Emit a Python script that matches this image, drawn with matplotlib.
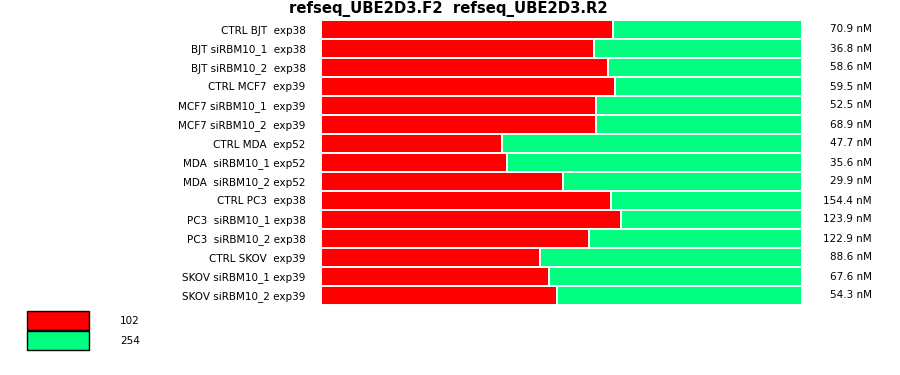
import numpy as np
import matplotlib.pyplot as plt
from matplotlib.patches import Rectangle

samples = [
    "CTRL BJT  exp38", "BJT siRBM10_1  exp38", "BJT siRBM10_2  exp38",
    "CTRL MCF7  exp39", "MCF7 siRBM10_1  exp39", "MCF7 siRBM10_2  exp39",
    "CTRL MDA  exp52", "MDA  siRBM10_1 exp52", "MDA  siRBM10_2 exp52",
    "CTRL PC3  exp38", "PC3  siRBM10_1 exp38", "PC3  siRBM10_2 exp38",
    "CTRL SKOV  exp39", "SKOV siRBM10_1 exp39", "SKOV siRBM10_2 exp39",
]
# fraction of signal from probe 102 (red); rest is 254 (green)
frac_102 = [0.607, 0.567, 0.597, 0.611, 0.572, 0.572, 0.376, 0.387, 0.503,
            0.603, 0.624, 0.557, 0.455, 0.474, 0.491]
frac_254 = [1 - f for f in frac_102]
conc_nm = [70.9, 36.8, 58.6, 59.5, 52.5, 68.9, 47.7, 35.6, 29.9,
           154.4, 123.9, 122.9, 88.6, 67.6, 54.3]
legend_labels = ["102", "254"]
colors = ["#ff0000", "#00ff80"]

fig = plt.figure(figsize=(9, 3.75), dpi=100)
ax = fig.add_axes([321 / 900, 1 - 305 / 375, 481 / 900, 285 / 375])

y = np.arange(len(samples))
ax.barh(y, frac_102, height=1.0, color=colors[0], edgecolor="white", linewidth=1.4)
ax.barh(y, frac_254, left=frac_102, height=1.0, color=colors[1], edgecolor="white", linewidth=1.4)

ax.set_xlim(0, 1)
ax.set_ylim(len(samples) - 0.5, -0.5)
ax.set_yticks(y)
ax.set_yticklabels(samples, fontsize=7.5)
ax.tick_params(axis="y", length=0, pad=11)
ax.set_xticks([])
for s in ax.spines.values():
    s.set_visible(False)

for i, c in enumerate(conc_nm):
    ax.text(1.1455, i, f"{c} nM", ha="right", va="center", fontsize=7.5,
            transform=ax.get_yaxis_transform())

fig.text(448 / 900, 1 - 9 / 375, "refseq_UBE2D3.F2  refseq_UBE2D3.R2",
         ha="center", va="center", fontsize=10.7, fontweight="bold")

# legend boxes
for k, (lab, col) in enumerate(zip(legend_labels, colors)):
    top = 311 + k * 20
    fig.patches.append(Rectangle((27 / 900, 1 - (top + 19) / 375), 62 / 900, 19 / 375,
                                 facecolor=col, edgecolor="black", linewidth=1.0,
                                 transform=fig.transFigure))
    fig.text(120 / 900, 1 - (top + 10) / 375, lab, ha="left", va="center", fontsize=7.5)

fig.savefig("out.png", dpi=100)
